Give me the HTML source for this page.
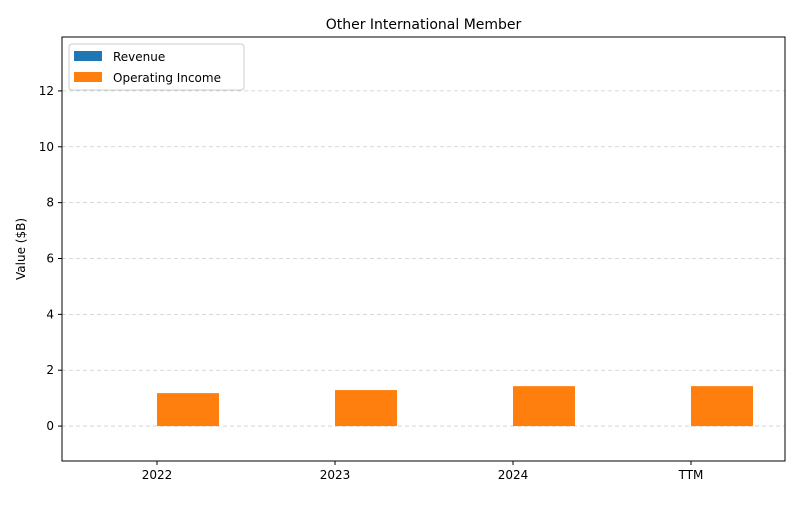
<!DOCTYPE html>
<html><head><meta charset="utf-8"><style>
body{margin:0;background:#fff;font-family:"Liberation Sans","DejaVu Sans",sans-serif}
svg text{font-family:"DejaVu Sans","Liberation Sans",sans-serif}
</style></head><body>
<svg id="c" width="800" height="500"></svg>
<script>
const categories=["2022","2023","2024","TTM"];
const revenue=[0,0,0,0];
const opIncome=[1.18,1.29,1.43,1.43];
const yTicks=[0,2,4,6,8,10,12];
const NS="http://www.w3.org/2000/svg";
const svg=document.getElementById('c');
const L=62,R=785,T=37,B=461,ymin=-1.25,ymax=13.93;
const y=v=>B-(v-ymin)/(ymax-ymin)*(B-T);
const x0=157,step=178,bw=62;
const x=i=>x0+i*step;
function mk(t,a,txt){const e=document.createElementNS(NS,t);for(const k in a)e.setAttribute(k,a[k]);if(txt!==undefined)e.textContent=txt;svg.appendChild(e);return e;}
mk('rect',{x:0,y:0,width:800,height:500,fill:'#fff'});
yTicks.forEach(v=>{
 const g=mk('line',{x1:L,x2:R,y1:y(v),y2:y(v),stroke:'#ccc','stroke-dasharray':'4,3','stroke-width':0.8});
 
 
 mk('line',{x1:L-4,x2:L,y1:y(v),y2:y(v),stroke:'#000'});
 const t=mk('text',{x:L-8,y:y(v)+4,'text-anchor':'end','font-size':12},String(v));
 
 
});
categories.forEach((c,i)=>{
 const rb=mk('rect',{x:x(i)-bw,y:Math.min(y(revenue[i]),y(0)),width:bw,height:Math.abs(y(0)-y(revenue[i])),fill:'#1f77b4'});
 
 
 const ob=mk('rect',{x:x(i),y:Math.min(y(opIncome[i]),y(0)),width:bw,height:Math.abs(y(0)-y(opIncome[i])),fill:'#ff7f0e'});
 
 
 mk('line',{x1:x(i),x2:x(i),y1:B,y2:B+4,stroke:'#000'});
 const t=mk('text',{x:x(i),y:B+18,'text-anchor':'middle','font-size':12},c);
 
 
});
const fr=mk('rect',{x:L,y:T,width:R-L,height:B-T,fill:'none',stroke:'#000','stroke-width':1});


const ti=mk('text',{x:(L+R)/2,y:29,'text-anchor':'middle','font-size':14},'Other International Member');


const yl=mk('text',{x:0,y:0,'text-anchor':'middle','font-size':12,transform:'translate(25,249) rotate(-90)'},'Value ($B)');


const lg=mk('rect',{x:69,y:44,width:175,height:46,fill:'#fff',stroke:'#ccc',rx:3});


mk('rect',{x:74,y:51,width:28,height:10,fill:'#1f77b4'});
const l1=mk('text',{x:113,y:61,'font-size':12},'Revenue');


mk('rect',{x:74,y:72,width:28,height:10,fill:'#ff7f0e'});
const l2=mk('text',{x:113,y:82,'font-size':12},'Operating Income');


</script>
</body></html>
